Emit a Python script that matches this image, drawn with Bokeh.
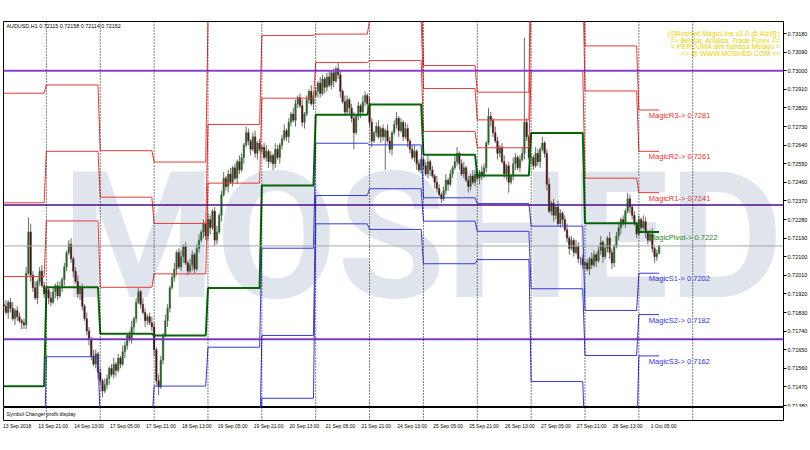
from bokeh.plotting import figure
from bokeh.models import (Range1d, FixedTicker, PrintfTickFormatter, Span, Label,
                          ColumnDataSource)
from bokeh.layouts import column
from bokeh.core.properties import value
from bokeh.embed import file_html
from bokeh.resources import INLINE

# ---------------- data ----------------
symbol_title = "AUDUSD,H1  0.72115 0.72158 0.72114 0.72152"
first_open_pips = 7187
close_pips = [
    7186, 7183, 7188, 7185, 7180, 7184, 7181, 7179, 7178, 7177, 7202, 7222, 7201, 7195, 7190, 7198, 7203, 7196, 7192,
    7194, 7190, 7188, 7193, 7196, 7191, 7195, 7199, 7205, 7212, 7216, 7209, 7203, 7198, 7192, 7195, 7186, 7180, 7174, 7170, 7162, 7158, 7163, 7154,
    7150, 7145, 7148, 7151, 7156, 7153, 7158, 7155, 7161, 7158, 7164, 7167, 7172, 7170, 7176, 7180, 7188, 7193, 7187, 7183, 7179, 7181, 7178, 7176,
    7165, 7150, 7147, 7160, 7172, 7179, 7185, 7195, 7200, 7204, 7212, 7205, 7210, 7215, 7207, 7203, 7206, 7211, 7204, 7214, 7218, 7222, 7226, 7220,
    7228, 7224, 7232, 7218, 7222, 7230, 7240, 7248, 7244, 7250, 7246, 7253, 7248, 7256, 7252, 7258, 7264, 7270, 7266, 7262, 7268, 7260, 7265, 7262,
    7263, 7258, 7261, 7256, 7259, 7255, 7262, 7258, 7264, 7267, 7271, 7268, 7275, 7279, 7276, 7284, 7287, 7283, 7275, 7279, 7286, 7290, 7284, 7288,
    7290, 7294, 7289, 7296, 7292, 7297, 7293, 7299, 7295, 7301, 7298, 7290, 7285, 7280, 7286, 7282, 7277, 7270, 7278, 7283, 7280, 7285, 7288, 7284,
    7275, 7266, 7270, 7273, 7268, 7272, 7268, 7271, 7266, 7262, 7270, 7274, 7277, 7271, 7275, 7268, 7272, 7266, 7262, 7258, 7261, 7255, 7252, 7257,
    7254, 7250, 7256, 7252, 7249, 7246, 7243, 7240, 7238, 7242, 7247, 7245, 7250, 7253, 7256, 7260, 7255, 7250, 7253, 7247, 7244, 7249, 7246, 7250,
    7248, 7251, 7249, 7253, 7265, 7278, 7276, 7270, 7266, 7260, 7263, 7256, 7250, 7254, 7246, 7249, 7255, 7258, 7253, 7257, 7260, 7275, 7268, 7258,
    7258, 7254, 7260, 7256, 7262, 7265, 7260, 7245, 7232, 7236, 7230, 7234, 7226, 7231, 7228, 7223, 7219, 7214, 7218, 7212, 7215, 7209, 7209, 7206,
    7207, 7204, 7209, 7206, 7211, 7208, 7213, 7217, 7210, 7214, 7219, 7212, 7207, 7215, 7220, 7224, 7228, 7226, 7232, 7238, 7234, 7230, 7226, 7221,
    7228, 7224, 7227, 7222, 7218, 7221, 7214, 7210, 7211.5, 7215.2,
]
wick_up_pips = [
    2, 3, 1, 2, 3, 1, 2, 2, 1, 2, 3, 7, 4, 2, 3, 1, 2, 3, 2,
    2, 1, 3, 2, 1, 2, 3, 1, 2, 1, 2, 3, 1, 2, 3, 1, 2, 1, 3, 2, 1, 3, 2, 1,
    2, 1, 3, 2, 1, 2, 3, 1, 2, 1, 3, 2, 1, 2, 3, 1, 2, 2, 1, 3, 2, 1, 2, 3,
    2, 1, 3, 2, 1, 3, 2, 1, 2, 3, 1, 2, 3, 1, 2, 1, 3, 2, 1, 2, 3, 1, 2, 1,
    3, 2, 1, 2, 3, 1, 2, 3, 1, 2, 3, 1, 2, 1, 3, 2, 1, 3, 2, 1, 2, 3, 1, 2,
    1, 2, 3, 1, 2, 1, 3, 2, 1, 2, 3, 1, 2, 1, 3, 2, 1, 2, 3, 1, 2, 1, 3, 2,
    2, 1, 3, 2, 1, 2, 3, 1, 2, 1, 3, 2, 1, 3, 2, 1, 2, 3, 1, 2, 1, 3, 2, 1,
    3, 2, 1, 2, 3, 1, 2, 1, 3, 2, 1, 2, 3, 1, 2, 1, 3, 2, 1, 2, 3, 1, 2, 1,
    1, 2, 3, 1, 2, 1, 3, 2, 1, 2, 3, 1, 2, 1, 3, 3, 1, 2, 3, 1, 2, 1, 3, 2,
    2, 1, 3, 2, 1, 4, 2, 1, 3, 2, 1, 2, 3, 1, 2, 1, 3, 2, 1, 2, 3, 41, 2, 1,
    2, 1, 3, 2, 1, 3, 1, 2, 3, 1, 2, 1, 3, 2, 1, 2, 3, 1, 2, 1, 3, 2, 1, 2,
    1, 2, 1, 3, 2, 1, 2, 3, 1, 2, 1, 3, 2, 1, 2, 3, 1, 2, 1, 3, 2, 1, 2, 1,
    2, 1, 3, 2, 1, 2, 3, 1, 2, 0.6,
]
wick_dn_pips = [
    2, 1, 3, 2, 1, 3, 2, 1, 3, 2, 2, 1, 3, 2, 1, 3, 2, 1, 2,
    1, 3, 2, 1, 3, 2, 1, 2, 3, 2, 1, 2, 3, 1, 2, 3, 2, 1, 2, 3, 2, 1, 2, 3,
    2, 3, 1, 2, 3, 1, 2, 3, 1, 2, 1, 3, 2, 1, 2, 3, 2, 1, 2, 1, 3, 2, 1, 2,
    3, 2, 4, 1, 2, 1, 3, 2, 1, 2, 3, 1, 2, 3, 1, 2, 1, 3, 2, 1, 2, 1, 3, 2,
    2, 3, 1, 3, 2, 1, 3, 1, 2, 3, 1, 2, 1, 3, 2, 1, 3, 1, 2, 3, 1, 2, 3, 1,
    2, 1, 2, 3, 1, 3, 2, 1, 3, 2, 1, 2, 3, 2, 1, 3, 2, 1, 2, 3, 1, 2, 1, 3,
    1, 3, 2, 1, 3, 2, 1, 2, 3, 1, 2, 3, 1, 2, 1, 3, 2, 8, 1, 2, 3, 1, 2, 3,
    2, 3, 1, 2, 1, 3, 2, 16, 1, 2, 3, 1, 2, 3, 1, 2, 1, 3, 2, 1, 2, 3, 1, 2,
    2, 1, 2, 3, 1, 3, 2, 1, 2, 1, 2, 3, 1, 2, 1, 2, 3, 1, 2, 1, 3, 2, 1, 2,
    1, 3, 2, 1, 2, 1, 3, 2, 1, 3, 2, 1, 2, 3, 5, 1, 2, 3, 1, 2, 1, 3, 2, 1,
    3, 2, 1, 2, 3, 1, 2, 3, 1, 2, 3, 2, 1, 2, 3, 1, 2, 3, 1, 2, 1, 2, 3, 2,
    2, 1, 3, 2, 1, 3, 1, 2, 3, 1, 2, 3, 3, 2, 1, 2, 3, 1, 2, 1, 3, 2, 1, 2,
    1, 2, 1, 3, 2, 1, 2, 3, 2, 0.1,
]

# daily pivot levels (one value per day, day starts as bar index)
day_start = [0, 19, 43, 67, 91, 115, 139, 163, 187, 211, 235, 259, 283]
R3 = [0.72891, 0.72931, 0.72613, 0.72558, 0.73249, 0.73591, 0.73430, 0.73457, 0.73025, 0.72896, 0.73753, 0.73120, 0.7281]
R2 = [0.72361, 0.72610, 0.72388, 0.72261, 0.72740, 0.73170, 0.73177, 0.73244, 0.72914, 0.72762, 0.73451, 0.72902, 0.7261]
R1 = [0.72004, 0.72273, 0.71952, 0.72017, 0.72456, 0.72867, 0.73040, 0.73049, 0.72706, 0.72627, 0.73000, 0.72480, 0.7241]
PV = [0.71473, 0.71952, 0.71727, 0.71719, 0.71948, 0.72444, 0.72787, 0.72836, 0.72593, 0.72493, 0.72698, 0.72262, 0.7222]
S1 = [0.71117, 0.71616, 0.71293, 0.71474, 0.71662, 0.72141, 0.72649, 0.72641, 0.72385, 0.72357, 0.72248, 0.71840, 0.7202]
S2 = [0.70586, 0.71294, 0.71066, 0.71177, 0.71154, 0.71719, 0.72396, 0.72429, 0.72272, 0.72223, 0.71945, 0.71622, 0.7182]
S3 = [0.70230, 0.70960, 0.70630, 0.70930, 0.70869, 0.71415, 0.72259, 0.72232, 0.72066, 0.72086, 0.71496, 0.71201, 0.7162]

round_levels = [0.73000, 0.72350, 0.71700]
price_ticks = [0.73180, 0.73090, 0.73000, 0.72910, 0.72820, 0.72730, 0.72640, 0.72550, 0.72460,
               0.72370, 0.72280, 0.72190, 0.72100, 0.72010, 0.71920, 0.71830, 0.71740, 0.71650,
               0.71560, 0.71470, 0.71380]
time_tick_bars = [0, 16, 32, 48, 64, 80, 96, 112, 128, 144, 160, 176, 192, 208, 224, 240, 256, 272, 288]
time_tick_labels = ["13 Sep 2018", "13 Sep 21:00", "14 Sep 13:00", "17 Sep 05:00", "17 Sep 21:00",
                    "18 Sep 13:00", "19 Sep 05:00", "19 Sep 21:00", "20 Sep 13:00", "21 Sep 05:00",
                    "21 Sep 21:00", "24 Sep 13:00", "25 Sep 05:00", "25 Sep 21:00", "26 Sep 13:00",
                    "27 Sep 05:00", "27 Sep 21:00", "28 Sep 13:00", "1 Oct 05:00"]
separator_bars = [19, 43, 67, 91, 115, 139, 163, 187, 211, 235, 259, 283, 307]
banner_lines = ["|:[[Moshed MagicLine v2.0 @ Aizil]]:|",
                "=> Belajar, Analisa, Trade Forex <=",
                "= PERCUMA dlm bahasa Melayu =",
                "=> @ WWW.MOSHED.COM <="]

# ---------------- layout helpers (reference pixel -> data) ----------------
BAR_PX, X0_PX = 2.25, 3.25
PX0, PRICE0, PX_PER_PRICE = 33.0, 0.73180, 20667.0
def bx(px):
    return (px - X0_PX) / BAR_PX
def py(px):
    return PRICE0 - (px - PX0) / PX_PER_PRICE

FONT_NAME = "Liberation Sans"
FONT = value(FONT_NAME)
W = 810

# ---------------- candles ----------------
n = len(close_pips)
opens = [first_open_pips] + close_pips[:-1]
xs = list(range(n))
o = [v / 1e4 for v in opens]
c = [v / 1e4 for v in close_pips]
hi = [(max(a, b) + u) / 1e4 for a, b, u in zip(opens, close_pips, wick_up_pips)]
lo = [(min(a, b) - d) / 1e4 for a, b, d in zip(opens, close_pips, wick_dn_pips)]
up = [cc >= oo for oo, cc in zip(o, c)]

def sub(mask):
    idx = [i for i in range(n) if mask[i]]
    return ColumnDataSource(dict(x=[xs[i] for i in idx],
                                 top=[max(o[i], c[i]) for i in idx],
                                 bottom=[min(o[i], c[i]) for i in idx]))

p = figure(width=W, height=407, x_range=Range1d(bx(3), bx(785)), y_range=Range1d(py(407), py(21)),
           output_backend="svg", toolbar_location=None, x_axis_location=None,
           y_axis_location="right", min_border_left=3, min_border_top=21, min_border_bottom=0,
           min_border_right=25, outline_line_color="black", outline_line_width=1,
           background_fill_color="white", border_fill_color="white")
p.grid.visible = False

ax = p.yaxis[0]
ax.ticker = FixedTicker(ticks=price_ticks)
ax.formatter = PrintfTickFormatter(format="%.5f")
ax.major_label_text_font = FONT_NAME
ax.major_label_text_font_size = "5.5px"
ax.major_label_text_color = "black"
ax.major_tick_out = 3
ax.major_tick_in = 0
ax.minor_tick_out = 0
ax.minor_tick_in = 0
ax.major_label_standoff = 1
ax.axis_line_color = "black"

# watermark
p.text(x=[bx(423)], y=[py(236)], text=["MOSHED"], text_font=value("Roboto"),
       text_font_style="bold", text_font_size="176px", text_align="center",
       text_baseline="alphabetic", text_color="#e0e4ed")

# candles
p.segment(x0="x", y0="lo", x1="x", y1="hi",
          source=ColumnDataSource(dict(x=xs, lo=lo, hi=hi)), line_color="#6a6a6a", line_width=1)
p.vbar(x="x", width=0.7, top="top", bottom="bottom", source=sub(up),
       fill_color="#3c4a3c", line_color="#2f8a2f", line_width=0.5)
p.vbar(x="x", width=0.7, top="top", bottom="bottom", source=sub([not u for u in up]),
       fill_color="#1c1c1c", line_color="#8a2a2a", line_width=0.5)

# pivot step lines
def step_xy(levels):
    sx, sy = [], []
    for d, lvl in enumerate(levels):
        s0 = day_start[d]
        e = day_start[d + 1] - 1 if d + 1 < len(day_start) else n - 1
        sx += [s0, e]
        sy += [lvl, lvl]
    return sx, sy

for lv, col, lw in [(R3, "#e83a3a", 1), (R2, "#e83a3a", 1), (R1, "#e83a3a", 1),
                    (S1, "#3a3ad8", 1), (S2, "#3a3ad8", 1), (S3, "#3a3ad8", 1),
                    (PV, "#0a650a", 2)]:
    sx, sy = step_xy(lv)
    p.line(sx, sy, line_color=col, line_width=lw)

# round-number levels and current price
for lvl, col, lw in zip(round_levels, ["#8e3fd3", "#4b0d8a", "#7a37c9"], [2, 1.5, 2]):
    p.add_layout(Span(location=lvl, dimension="width", line_color=col, line_width=lw))
p.add_layout(Span(location=c[-1], dimension="width", line_color="#a8a8a8", line_width=1))

# day separators
for b in separator_bars:
    p.add_layout(Span(location=b, dimension="height", line_color="black",
                      line_dash="1 2", line_width=1))

# magic labels
names = ["MagicR3", "MagicR2", "MagicR1", "MagicPivot", "MagicS1", "MagicS2", "MagicS3"]
lvls = [R3[-1], R2[-1], R1[-1], PV[-1], S1[-1], S2[-1], S3[-1]]
cols = ["#e03232", "#e03232", "#e03232", "#1c8a1c", "#3434cc", "#3434cc", "#3434cc"]
p.text(x=[bx(650)] * 7, y=lvls, text=[f"{nm}-> {lv:.4f}" for nm, lv in zip(names, lvls)],
       text_color=cols, text_font=FONT, text_font_size="7.5px", text_baseline="top",
       text_align="left", y_offset=1)

# banner (top right)
p.text(x=[bx(782)] * 4, y=[py(33.3), py(39.7), py(46.1), py(52.6)], text=banner_lines,
       text_color="#e8d000", text_font=FONT, text_font_size="7px", text_align="right",
       text_baseline="middle")

# symbol title
p.add_layout(Label(x=bx(6), y=py(25), text=symbol_title, text_font=FONT_NAME,
                   text_font_size="5.4px", text_baseline="middle", text_color="black"))

# price boxes on the axis
for lvl in round_levels:
    p.add_layout(Label(x=bx(786.5), y=lvl, text=f"{lvl:.5f}", text_font=FONT_NAME,
                       text_font_size="5.5px", text_color="white", text_baseline="middle",
                       background_fill_color="#9b30d9", padding=1))
p.add_layout(Label(x=bx(786.5), y=c[-1], text=f"{c[-1]:.5f}", text_font=FONT_NAME,
                   text_font_size="5.5px", text_color="white", text_baseline="middle",
                   background_fill_color="black", padding=1))

# ---------------- sub window ----------------
s = figure(width=W, height=25, x_range=p.x_range, y_range=Range1d(0, 1),
           output_backend="svg", toolbar_location=None, y_axis_location=None,
           min_border_left=3, min_border_top=0, min_border_right=25, min_border_bottom=12,
           outline_line_color="black", background_fill_color="white", border_fill_color="white")
s.grid.visible = False
label_ticks = [b + 6 for b in time_tick_bars]
s.xaxis.ticker = FixedTicker(ticks=label_ticks)
s.xaxis.major_label_overrides = {t: lab for t, lab in zip(label_ticks, time_tick_labels)}
s.xaxis.major_label_text_font = FONT_NAME
s.xaxis.major_label_text_font_size = "5px"
s.xaxis.major_label_text_color = "black"
s.xaxis.major_tick_out = 0
s.xaxis.major_tick_in = 0
s.xaxis.minor_tick_out = 0
s.xaxis.minor_tick_in = 0
s.xaxis.axis_line_color = None
s.xaxis.major_label_standoff = 2
for b in separator_bars:
    s.add_layout(Span(location=b, dimension="height", line_color="black",
                      line_dash="1 2", line_width=1))
s.add_layout(Label(x=bx(6), y=0.5, text="Symbol Changer profit display", text_font=FONT_NAME,
                   text_font_size="5.2px", text_baseline="middle", text_color="black"))

layout = column(p, s, spacing=0)
open("out.html", "w").write(file_html(layout, INLINE))
